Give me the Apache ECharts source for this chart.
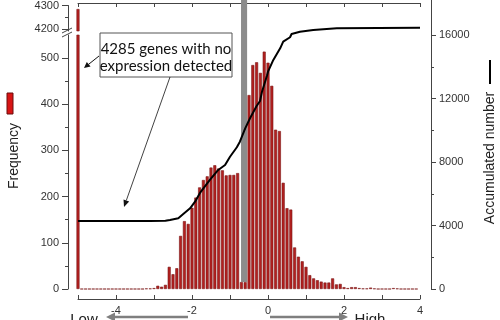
<!DOCTYPE html>
<html><head><meta charset="utf-8">
<script src="https://cdn.jsdelivr.net/npm/echarts@6/dist/echarts.min.js"></script>
<style>html,body{margin:0;padding:0;background:#fff}#c{width:500px;height:320px}</style>
</head><body><div id="c"></div>
<script>
// ---- data ----
const binCenters = [-5.0,-4.9,-4.8,-4.7,-4.6,-4.5,-4.4,-4.3,-4.2,-4.1,-4.0,-3.9,-3.8,-3.7,-3.6,-3.5,-3.4,-3.3,-3.2,-3.1,-3.0,-2.9,-2.8,-2.7,-2.6,-2.5,-2.4,-2.3,-2.2,-2.1,-2.0,-1.9,-1.8,-1.7,-1.6,-1.5,-1.4,-1.3,-1.2,-1.1,-1.0,-0.9,-0.8,-0.7,-0.6,-0.5,-0.4,-0.3,-0.2,-0.1,0.0,0.1,0.2,0.3,0.4,0.5,0.6,0.7,0.8,0.9,1.0,1.1,1.2,1.3,1.4,1.5,1.6,1.7,1.8,1.9,2.0,2.1,2.2,2.3,2.4,2.5,2.6,2.7,2.8,2.9,3.0,3.1,3.2,3.3,3.4,3.5,3.6,3.7,3.8,3.9];
const frequency = [4285,0,0,0,0,0,0,0,0,0,0,0,0,0,0,0,0,0,1,1,2,7,5,9,48,32,45,115,147,141,176,198,220,236,244,263,268,261,257,246,247,247,251,15,15,420,485,491,468,514,490,440,345,342,230,175,172,90,70,60,48,30,23,19,16,14,14,23,10,11,4,2,4,4,2,1,1,3,1,0,0,0,0,2,1,0,0,0,0,0];
const accumX = [-5.0,-3.1,-2.7,-2.58,-2.36,-2.23,-2.05,-1.92,-1.79,-1.53,-1.31,-1.13,-1.0,-0.82,-0.74,-0.6,-0.47,-0.3,-0.21,-0.16,-0.03,0.0,0.14,0.32,0.4,0.58,0.62,0.84,1.19,1.81,4.0];
const accumCount = [4285,4285,4300,4350,4450,4720,5080,5500,6050,6870,7500,7810,8330,8930,9280,10120,10770,11530,11840,12410,13420,13690,14430,15160,15580,15860,16060,16210,16320,16420,16460];
const xTickValues = [-5,-4,-3,-2,-1,0,1,2,3,4];
const xLabelValues = [-4,-2,0,2,4];
const freqTicks = [0,100,200,300,400,500];
const freqMinorTicks = [50,150,250,350,450];
const freqUpperTicks = [4200,4300];
const freqUpperMinor = [4250];
const accumTicks = [0,4000,8000,12000,16000];
const accumMinorTicks = [2000,6000,10000,14000];
const markerBand = [-0.71,-0.55];
const markerBandBottom = 440;
const annotationLines = ['4285 genes with no', 'expression detected'];

// ---- layout ----
const xMin = -5.263, xMax = 4.289;
const accumMax = 18205;
const font = '"Liberation Sans", Arial, sans-serif';
const axisColor = '#444';
const labelStyle = {fontFamily: font, fontSize: 11, color: '#333', formatter: v => String(v)};

const pairs = (xs, ys) => xs.map((x, i) => [x, ys[i]]);
const barData = pairs(binCenters, frequency);

function hiddenX(gi) { return {type:'value', gridIndex: gi, min: xMin, max: xMax, show: false, axisLine:{onZero:false}}; }
function yAx(gi, pos, min, max, ticks, labels, len, showLine, margin) {
  return {type:'value', gridIndex: gi, position: pos, min, max,
    axisLine: {show: showLine, onZero: false, lineStyle: {color: axisColor, width: 1}},
    axisTick: {show: true, inside: false, length: len, customValues: ticks, lineStyle: {color: axisColor}},
    axisLabel: labels ? Object.assign({show: true, customValues: labels, margin: margin}, labelStyle) : {show: false},
    splitLine: {show: false}};
}

function arrow(x1, y1, x2, y2, color, w, hl, hw) {
  const a = Math.atan2(y2 - y1, x2 - x1), c = Math.cos(a), s = Math.sin(a);
  const bx = x2 - hl * c, by = y2 - hl * s;
  return [
    {type:'line', shape:{x1, y1, x2: bx, y2: by}, style:{stroke: color, lineWidth: w}, z: 100},
    {type:'polygon', shape:{points: [[x2, y2], [bx + hw * s, by - hw * c], [bx - hw * s, by + hw * c]]}, style:{fill: color}, z: 100}
  ];
}

const chart = echarts.init(document.getElementById('c'), null, {renderer: 'canvas'});
chart.setOption({
  animation: false,
  backgroundColor: '#fff',
  grid: [
    {left: 68, right: 69, top: 0, height: 289},   // accumulated line
    {left: 68, right: 69, top: 35, height: 254},  // lower frequency
    {left: 68, right: 69, top: 4, height: 27},    // upper frequency (break)
    {left: 78, right: 80, top: 290, height: 9},   // bottom x axis
    {left: 78, right: 80, top: 3, height: 10}     // top x axis
  ],
  xAxis: [
    hiddenX(0), hiddenX(1), hiddenX(2),
    {type:'value', gridIndex: 3, position:'bottom', min: -5, max: 4,
     axisLine:{onZero:false, lineStyle:{color: axisColor}},
     axisTick:{inside: true, length: 4, customValues: xTickValues, lineStyle:{color: axisColor}},
     axisLabel: Object.assign({customValues: xLabelValues, margin: 6}, labelStyle),
     splitLine:{show:false}},
    {type:'value', gridIndex: 4, position:'top', min: -5, max: 4,
     axisLine:{onZero:false, lineStyle:{color: axisColor}},
     axisTick:{inside: true, length: 4, customValues: xTickValues, lineStyle:{color: axisColor}},
     axisLabel:{show:false}, splitLine:{show:false}}
  ],
  yAxis: [
    yAx(0, 'right', 0, accumMax, accumTicks, accumTicks, 5, true, 8),
    yAx(0, 'right', 0, accumMax, accumMinorTicks, null, 3, false),
    yAx(1, 'left', 0, 550, freqTicks, freqTicks, 6, true, 9),
    yAx(1, 'left', 0, 550, freqMinorTicks, null, 3, false),
    yAx(2, 'left', 4192, 4300, freqUpperTicks, freqUpperTicks, 6, true, 9),
    yAx(2, 'left', 4192, 4300, freqUpperMinor, null, 3, false),
    {type:'value', gridIndex: 3, show: false},
    {type:'value', gridIndex: 4, show: false}
  ],
  series: [
    {type:'bar', name:'Frequency', xAxisIndex: 1, yAxisIndex: 2, data: barData, barWidth: 3, clip: true, z: 2,
     itemStyle:{color:'#b3201f', borderColor:'#7a1515', borderWidth: 0.6}},
    {type:'bar', name:'Frequency (upper)', xAxisIndex: 2, yAxisIndex: 4, data: barData.filter(d => d[1] > 4192), barWidth: 3, clip: true, z: 2,
     itemStyle:{color:'#b3201f', borderColor:'#7a1515', borderWidth: 0.6}},
    {type:'line', name:'Accumulated number', xAxisIndex: 0, yAxisIndex: 0, data: pairs(accumX, accumCount), z: 4,
     symbol:'none', lineStyle:{color:'#000', width: 2},
     markArea:{silent: true, z: 3, itemStyle:{color:'#8c8c8c'},
       data:[[{xAxis: markerBand[0], yAxis: markerBandBottom}, {xAxis: markerBand[1], yAxis: accumMax}]]}}
  ],
  graphic: [
    // axis break marks
    {type:'line', shape:{x1: 62, y1: 33, x2: 72, y2: 28}, style:{stroke:'#444', lineWidth: 1}, z: 100},
    {type:'line', shape:{x1: 62, y1: 37, x2: 72, y2: 32}, style:{stroke:'#444', lineWidth: 1}, z: 100},
    // annotation box
    {type:'rect', shape:{x: 100, y: 33, width: 132, height: 44}, style:{fill:'#fff', stroke:'#555', lineWidth: 1}, z: 100},
    {type:'text', x: 166, y: 49, style:{text: annotationLines[0], fontFamily:'Lato, "Open Sans", sans-serif', fontSize: 15, fill:'#111', textAlign:'center', textVerticalAlign:'middle'}, z: 101},
    {type:'text', x: 166, y: 66, style:{text: annotationLines[1], fontFamily:'Lato, "Open Sans", sans-serif', fontSize: 15, fill:'#111', textAlign:'center', textVerticalAlign:'middle'}, z: 101},
    ...arrow(99, 56, 84, 68, '#111', 1, 6, 3),
    ...arrow(170, 77, 124, 207, '#111', 0.8, 7, 3),
    // left legend
    {type:'rect', shape:{x: 7, y: 93, width: 6, height: 21}, style:{fill:'#d81414', stroke:'#6a0c0c', lineWidth: 1}, z: 100},
    {type:'text', x: 14, y: 156, rotation: Math.PI / 2, style:{text:'Frequency', fontFamily: font, fontSize: 14, fill:'#222', textAlign:'center', textVerticalAlign:'middle'}, z: 100},
    // right legend
    {type:'text', x: 490, y: 158, rotation: Math.PI / 2, style:{text:'Accumulated number', fontFamily: font, fontSize: 14, fill:'#222', textAlign:'center', textVerticalAlign:'middle'}, z: 100},
    {type:'line', shape:{x1: 490, y1: 60, x2: 490, y2: 84}, style:{stroke:'#000', lineWidth: 2}, z: 100},
    // Low / High
    ...arrow(188, 317, 106, 317, '#7f7f7f', 2.5, 9, 4.5),
    ...arrow(270, 317, 348, 317, '#7f7f7f', 2.5, 9, 4.5),
    {type:'text', x: 84, y: 320, style:{text:'Low', fontFamily: font, fontSize: 15, fill:'#222', textAlign:'center', textVerticalAlign:'middle'}, z: 100},
    {type:'text', x: 370, y: 320, style:{text:'High', fontFamily: font, fontSize: 15, fill:'#222', textAlign:'center', textVerticalAlign:'middle'}, z: 100}
  ]
});
</script>
</body></html>
